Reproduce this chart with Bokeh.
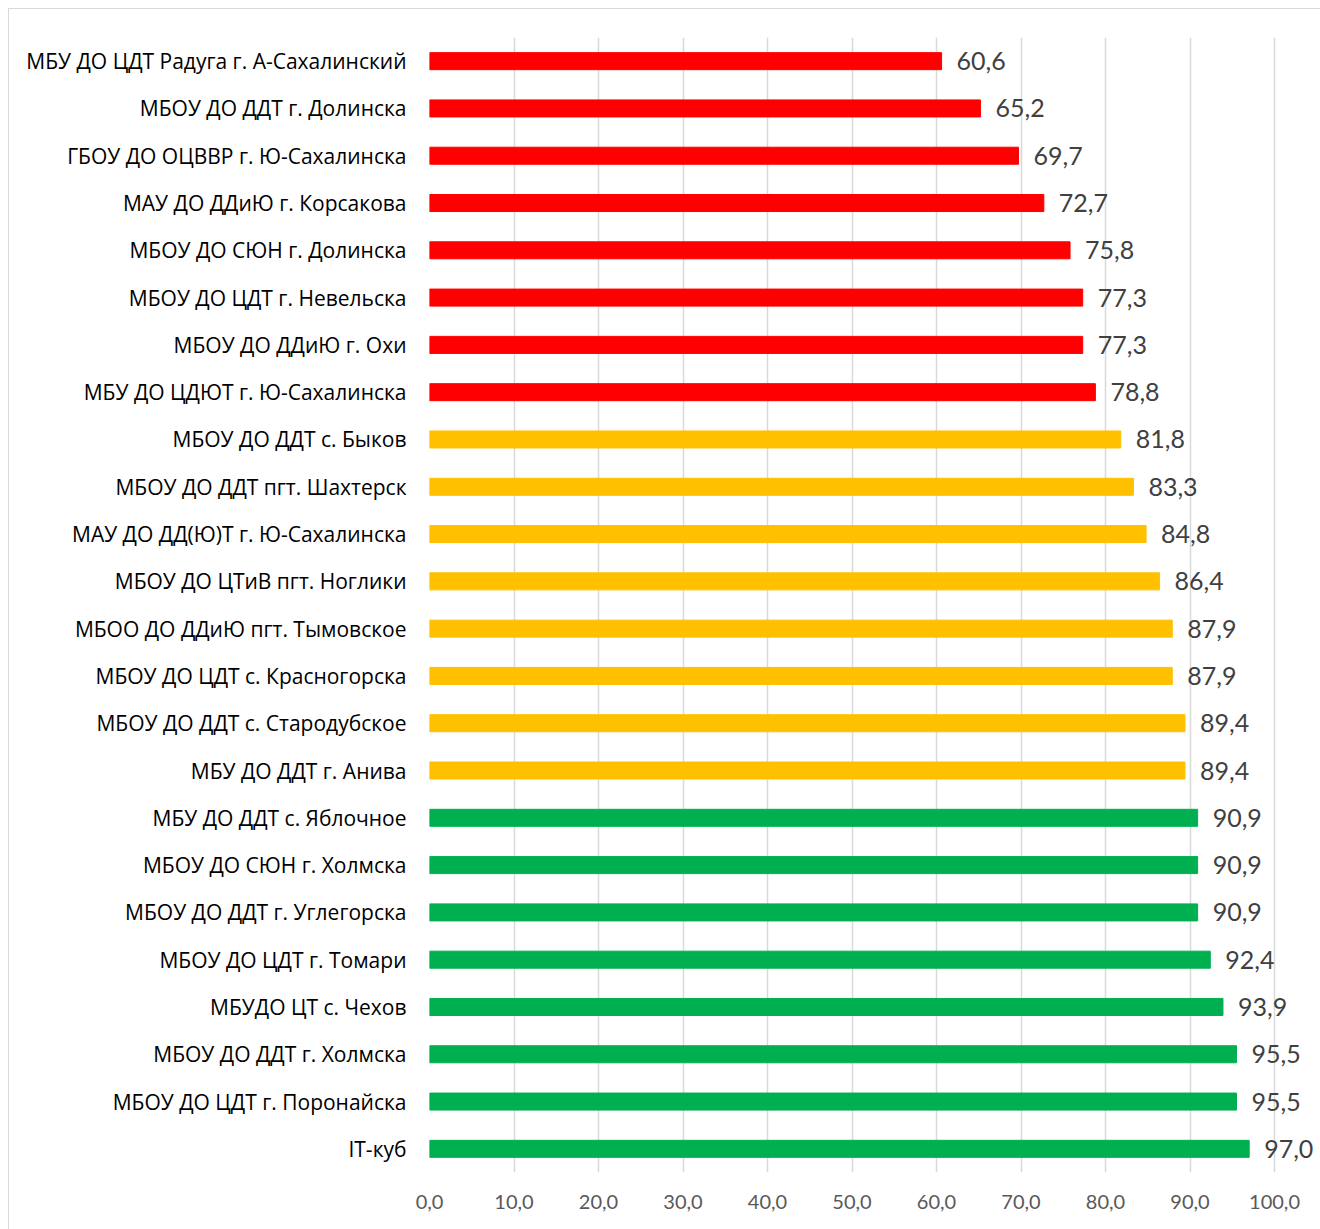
from bokeh.plotting import figure
from bokeh.models import FactorRange, Range1d, FixedTicker, CustomJSTickFormatter, ColumnDataSource
from bokeh.core.properties import value
from bokeh.embed import file_html
from bokeh.resources import INLINE

categories = [
    "МБУ ДО ЦДТ Радуга г. А-Сахалинский",
    "МБОУ ДО ДДТ г. Долинска",
    "ГБОУ ДО ОЦВВР г. Ю-Сахалинска",
    "МАУ ДО ДДиЮ г. Корсакова",
    "МБОУ ДО СЮН г. Долинска",
    "МБОУ ДО ЦДТ г. Невельска",
    "МБОУ ДО ДДиЮ г. Охи",
    "МБУ ДО ЦДЮТ г. Ю-Сахалинска",
    "МБОУ ДО ДДТ с. Быков",
    "МБОУ ДО ДДТ пгт. Шахтерск",
    "МАУ ДО ДД(Ю)Т г. Ю-Сахалинска",
    "МБОУ ДО ЦТиВ пгт. Ноглики",
    "МБОО ДО ДДиЮ пгт. Тымовское",
    "МБОУ ДО ЦДТ с. Красногорска",
    "МБОУ ДО ДДТ с. Стародубское",
    "МБУ ДО ДДТ г. Анива",
    "МБУ ДО ДДТ с. Яблочное",
    "МБОУ ДО СЮН г. Холмска",
    "МБОУ ДО ДДТ г. Углегорска",
    "МБОУ ДО ЦДТ г. Томари",
    "МБУДО ЦТ с. Чехов",
    "МБОУ ДО ДДТ г. Холмска",
    "МБОУ ДО ЦДТ г. Поронайска",
    "IT-куб",
]
values = [60.6, 65.2, 69.7, 72.7, 75.8, 77.3, 77.3, 78.8,
          81.8, 83.3, 84.8, 86.4, 87.9, 87.9, 89.4, 89.4,
          90.9, 90.9, 90.9, 92.4, 93.9, 95.5, 95.5, 97.0]
x_ticks = [0, 10, 20, 30, 40, 50, 60, 70, 80, 90, 100]

RED, YELLOW, GREEN = "#FF0000", "#FFC000", "#00B050"
colors = [RED if v < 80 else (YELLOW if v < 90 else GREEN) for v in values]
labels = [f"{v:.1f}".replace(".", ",") for v in values]

src = ColumnDataSource(dict(cat=categories, val=values, color=colors, label=labels))

FONT = "Lato"
p = figure(
    width=1320, height=1229,
    y_range=FactorRange(*reversed(categories)),
    x_range=Range1d(0, 105.44),
    output_backend="svg", toolbar_location=None,
    min_border_left=429, min_border_right=0, min_border_top=37, min_border_bottom=57,
)
p.styles = {
    "background": ("linear-gradient(#d9d9d9,#d9d9d9) 8px 8px / 1px 100% no-repeat, "
                   "linear-gradient(#d9d9d9,#d9d9d9) 8px 8px / 100% 1px no-repeat, white"),
}
p.outline_line_color = None
p.background_fill_color = "white"
p.border_fill_color = None

p.hbar(y="cat", left=0, right="val", height=0.36, color="color", source=src)
p.text(x="val", y="cat", text="label", source=src, x_offset=15,
       text_baseline="middle", text_align="left",
       text_font=value(FONT), text_font_size="25px", text_color="#404040")

p.ygrid.grid_line_color = None
p.xgrid.ticker = FixedTicker(ticks=x_ticks)
p.xgrid.grid_line_color = "#d9d9d9"
p.xgrid.grid_line_width = 1.5

p.xaxis.ticker = FixedTicker(ticks=x_ticks)
p.xaxis.formatter = CustomJSTickFormatter(code="return tick.toFixed(1).replace('.', ',');")
p.xaxis.axis_line_color = None
p.xaxis.major_tick_line_color = None
p.xaxis.minor_tick_line_color = None
p.xaxis.major_label_standoff = 16
p.xaxis.major_label_text_font = FONT
p.xaxis.major_label_text_font_size = "20px"
p.xaxis.major_label_text_color = "#595959"

p.yaxis.axis_line_color = None
p.yaxis.major_tick_line_color = None
p.yaxis.minor_tick_line_color = None
p.yaxis.major_label_standoff = 17
p.yaxis.major_label_text_font = "Open Sans"
p.yaxis.major_label_text_font_size = "21px"
p.yaxis.major_label_text_color = "black"

open("out.html", "w").write(file_html(p, INLINE))
